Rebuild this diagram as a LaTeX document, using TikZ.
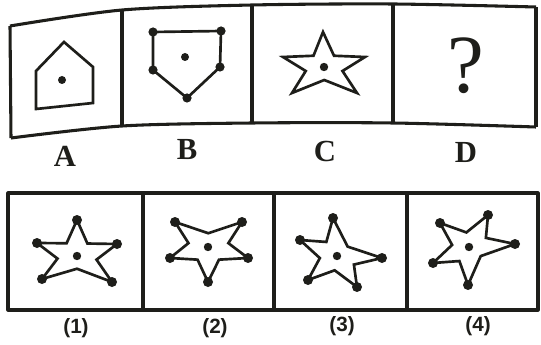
\documentclass[tikz,border=0pt]{standalone}
\usepackage{fontspec}
\setmainfont{Liberation Serif}
\newfontfamily\labfont{Liberation Sans}
\usetikzlibrary{calc}
\definecolor{ink}{HTML}{1E1E1A}
\tikzset{
  frame/.style={draw=ink,line width=2.3pt,line join=round},
  fig/.style={draw=ink,line width=2pt,line join=miter},
  letter/.style={font=\fontsize{23}{25}\selectfont\bfseries,text=ink},
  numlab/.style={font=\labfont\fontsize{15.5}{17}\selectfont\bfseries,text=ink},
}
\newcommand{\dotat}[2]{\fill[ink] #1 circle (#2);}
% star: #1 centre, #2..#6 tips in angular order, #7 inner factor, #8 tip dots (1/0)
\newcommand{\pstar}[8]{%
  \coordinate (sc) at #1;
  \coordinate (s1) at #2; \coordinate (s2) at #3; \coordinate (s3) at #4;
  \coordinate (s4) at #5; \coordinate (s5) at #6;
  \coordinate (i1) at ($(sc)!#7!($(s1)!0.5!(s2)$)$);
  \coordinate (i2) at ($(sc)!#7!($(s2)!0.5!(s3)$)$);
  \coordinate (i3) at ($(sc)!#7!($(s3)!0.5!(s4)$)$);
  \coordinate (i4) at ($(sc)!#7!($(s4)!0.5!(s5)$)$);
  \coordinate (i5) at ($(sc)!#7!($(s5)!0.5!(s1)$)$);
  \draw[fig] (s1) -- (i1) -- (s2) -- (i2) -- (s3) -- (i3) -- (s4) -- (i4) -- (s5) -- (i5) -- cycle;
  \fill[ink] (sc) circle (4.2);
  \ifnum#8=1
    \foreach \p in {s1,s2,s3,s4,s5} {\fill[ink] (\p) circle (5);}
  \fi
}
\begin{document}
\begin{tikzpicture}[x=0.75pt,y=-0.75pt]
\useasboundingbox (0,0) rectangle (541,345);
% ---------- top strip ----------
\coordinate (t0) at (10,26);  \coordinate (b0) at (11,138);
\coordinate (t1) at (122,10); \coordinate (b1) at (122,126);
\coordinate (t2) at (252,5);  \coordinate (b2) at (252,123);
\coordinate (t3) at (393,4);  \coordinate (b3) at (393,123);
\coordinate (t4) at (536,7);  \coordinate (b4) at (536,127);
\draw[frame] plot[smooth,tension=0.5] coordinates {(10,26) (122,10) (252,5) (393,4) (536,7)};
\draw[frame] plot[smooth,tension=0.5] coordinates {(11,138) (122,126) (252,123) (393,123) (536,127)};
\foreach \i in {0,...,4} {\draw[frame] (t\i) -- (b\i);}
% A: house
\draw[fig] (64,42) -- (93,67) -- (93,103) -- (36,109) -- (36,71) -- cycle;
\dotat{(62,80)}{4}
% B: pentagon with dots
\draw[fig] (153,32) -- (221,31) -- (220,67) -- (187,98) -- (153,70) -- cycle;
\foreach \p in {(153,32),(221,31),(220,67),(187,98),(153,70)} {\dotat{\p}{4.6}}
\dotat{(185,57)}{4}
% C: star
\pstar{(324,67)}{(323,32)}{(365,57)}{(357,93)}{(292,93)}{(283,57)}{0.5}{0}
% D: question mark
\node[font=\fontsize{62}{64}\selectfont,text=ink] (q) at (466,66) {?};
% letters
\node[letter] (la) at (65,156) {A};
\node[letter] (lb) at (187,150) {B};
\node[letter] (lc) at (325,151) {C};
\node[letter] (ld) at (466,152) {D};
% ---------- bottom row ----------
\coordinate (u0) at (8,193);   \coordinate (d0) at (8,310);
\coordinate (u1) at (143,193); \coordinate (d1) at (143,310);
\coordinate (u2) at (274,193); \coordinate (d2) at (274,310);
\coordinate (u3) at (407,193); \coordinate (d3) at (407,310);
\coordinate (u4) at (538,193); \coordinate (d4) at (538,310);
\draw[frame] (u0) rectangle (d4);
\foreach \i in {1,2,3} {\draw[frame] (u\i) -- (d\i);}
% (1)
\pstar{(77,256)}{(77,220)}{(117,244)}{(112,282)}{(42,279)}{(37,243)}{0.52}{1}
% (2)
\pstar{(208,247)}{(175,222)}{(242,222)}{(248,258)}{(208,282)}{(170,258)}{0.55}{1}
% (3)
\pstar{(337,256)}{(333,218)}{(382,258)}{(357,287)}{(308,280)}{(300,240)}{0.52}{1}
% (4)
\pstar{(469,247)}{(440,223)}{(488,215)}{(515,244)}{(468,285)}{(433,263)}{0.52}{1}
% labels
\node[numlab] (n1) at (76,328) {(1)};
\node[numlab] (n2) at (215,328) {(2)};
\node[numlab] (n3) at (342,326) {(3)};
\node[numlab] (n4) at (478,326) {(4)};
\end{tikzpicture}
\end{document}
